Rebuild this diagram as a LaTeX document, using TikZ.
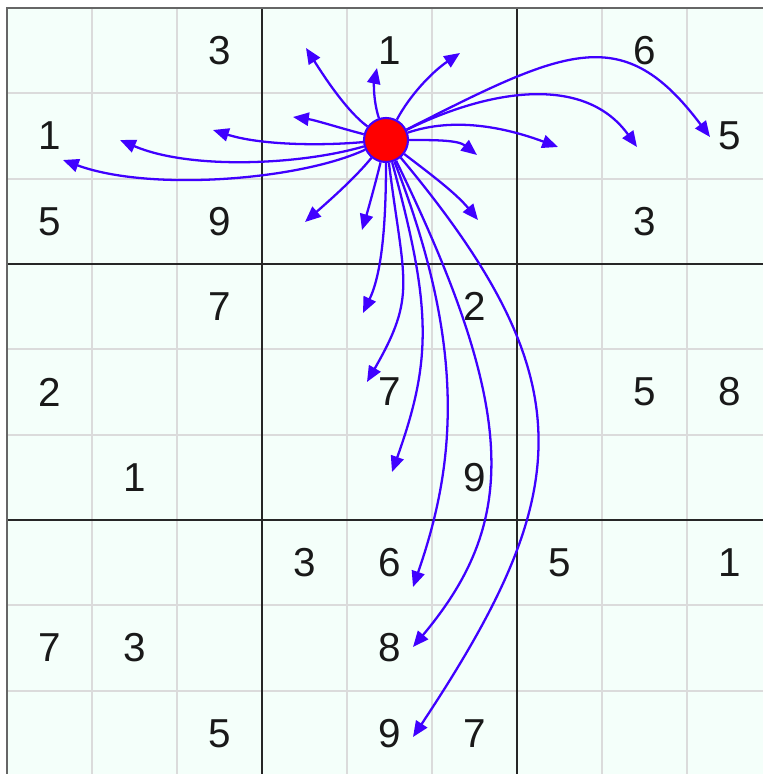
\documentclass[tikz,border=0pt]{standalone}
\usepackage{fontspec}
\setmainfont{Liberation Sans}
\usetikzlibrary{arrows.meta}
\definecolor{gridbg}{RGB}{244,255,250}
\definecolor{rayblue}{RGB}{64,0,255}

\begin{document}
\begin{tikzpicture}[x=0.02cm, y=-0.02cm,
	digit/.style={font=\fontsize{23}{23}\selectfont, text=black!90},
	thinline/.style={draw=black!14, line width=1pt},
	boxline/.style={draw=black!85, line width=1.5pt},
	ray/.style={draw=rayblue, line width=1.3pt, -{Triangle[length=9pt, width=7.5pt]}}]
	\useasboundingbox (0,0) rectangle (763,774);
	\clip (0,0) rectangle (763,774);
	\fill[gridbg] (7,8) rectangle (780,780);
	% grid
	\foreach \i in {1,2,4,5,7,8} {
		\draw[thinline] ({7+85*\i},8) -- ({7+85*\i},780);
		\draw[thinline] (7,{8+85.33*\i}) -- (780,{8+85.33*\i});
	}
	\foreach \i in {3,6} {
		\draw[boxline] ({7+85*\i},8) -- ({7+85*\i},780);
		\draw[boxline] (7,{8+85.33*\i}) -- (780,{8+85.33*\i});
	}
	\draw[draw=black!60, line width=1.2pt] (7,780) -- (7,8) -- (780,8);
	% givens
	\foreach \r/\c/\v in {0/2/3, 0/4/1, 0/7/6, 1/0/1, 1/8/5, 2/0/5, 2/2/9, 2/7/3,
		3/2/7, 3/5/2, 4/0/2, 4/4/7, 4/7/5, 4/8/8, 5/1/1, 5/5/9,
		6/3/3, 6/4/6, 6/6/5, 6/8/1, 7/0/7, 7/1/3, 7/4/8, 8/2/5, 8/4/9, 8/5/7}
		\node[digit] (d-\r-\c) at ({7+85*(\c+0.5)},{8+85.33*(\r+0.5)}) {\v};
	% the chosen cell and its moves
	\node[circle, fill=red, draw=rayblue, line width=1.2pt, minimum size=0.88cm, inner sep=0pt] (src) at (386,140) {};
	\coordinate (t1) at (63,160);
	\coordinate (t2) at (120,140);
	\coordinate (t3) at (213,130);
	\coordinate (t4) at (293,117);
	\coordinate (t5) at (306,48);
	\coordinate (t6) at (377,68);
	\coordinate (t7) at (460,53);
	\coordinate (t8) at (477,155);
	\coordinate (t9) at (478,220);
	\coordinate (t10) at (305,222);
	\coordinate (t11) at (362,230);
	\coordinate (t12) at (558,147);
	\coordinate (t13) at (637,147);
	\coordinate (t14) at (710,137);
	\coordinate (t15) at (363,313);
	\coordinate (t16) at (367,382);
	\coordinate (t17) at (392,472);
	\coordinate (t18) at (413,587);
	\coordinate (t19) at (413,647);
	\coordinate (t20) at (413,737);
	\draw[ray] (src) .. controls (300,180) and (150,192) .. (t1);
	\draw[ray] (src) .. controls (300,165) and (190,170) .. (t2);
	\draw[ray] (src) .. controls (320,146) and (260,145) .. (t3);
	\draw[ray] (src) .. controls (340,128) and (315,120) .. (t4);
	\draw[ray] (src) .. controls (345,110) and (320,70) .. (t5);
	\draw[ray] (src) .. controls (373,100) and (374,82) .. (t6);
	\draw[ray] (src) .. controls (410,95) and (432,72) .. (t7);
	\draw[ray] (src) .. controls (435,140) and (458,140) .. (t8);
	\draw[ray] (src) .. controls (425,170) and (455,192) .. (t9);
	\draw[ray] (src) .. controls (355,178) and (330,200) .. (t10);
	\draw[ray] (src) .. controls (375,185) and (368,210) .. (t11);
	\draw[ray] (src) .. controls (454,117) and (504,127) .. (t12);
	\draw[ray] (src) .. controls (494,87) and (586,76) .. (t13);
	\draw[ray] (src) .. controls (567,48) and (623,21) .. (t14);
	\draw[ray] (src) .. controls (386,230) and (381,275) .. (t15);
	\draw[ray] (src) .. controls (404,283) and (417,295) .. (t16);
	\draw[ray] (src) .. controls (432,308) and (432,360) .. (t17);
	\draw[ray] (src) .. controls (468,350) and (455,466) .. (t18);
	\draw[ray] (src) .. controls (522,419) and (515,525) .. (t19);
	\draw[ray] (src) .. controls (587,381) and (575,493) .. (t20);
\end{tikzpicture}
\end{document}
